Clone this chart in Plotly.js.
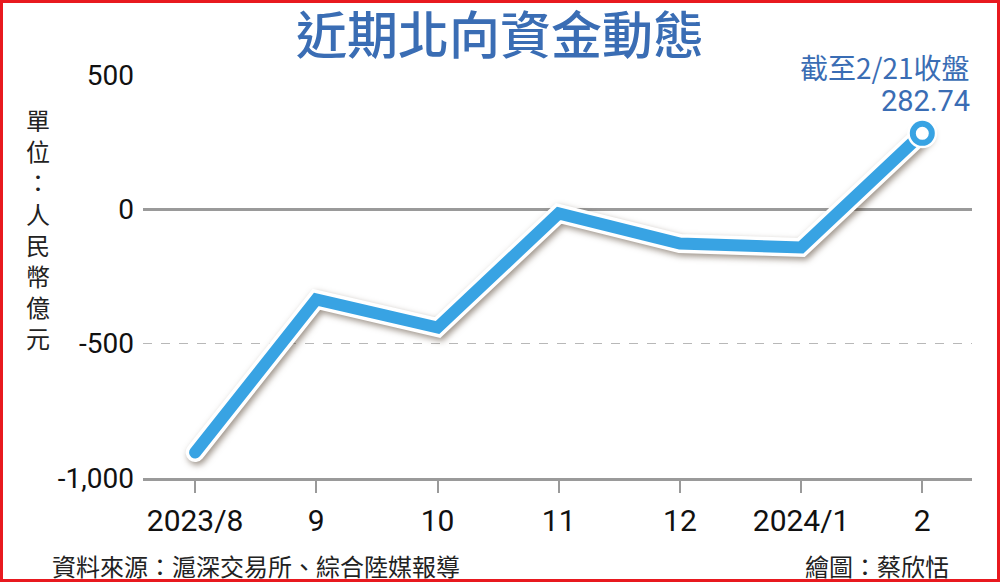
<!DOCTYPE html>
<html>
<head>
<meta charset="utf-8">
<script src="https://cdn.plot.ly/plotly-3.0.1.min.js"></script>
<style>
  html, body { margin: 0; padding: 0; background: #fff; }
  #wrap { position: relative; width: 1000px; height: 582px; }
  #chart { width: 1000px; height: 582px; }
  #frame { position: absolute; left: 0; top: 0; width: 1000px; height: 582px; box-sizing: border-box; border: 3px solid #e8191f; pointer-events: none; }
  .scatterlayer .trace .js-line { stroke-linecap: round; }
  .scatterlayer .trace:nth-child(1) .js-line { filter: drop-shadow(2px 3px 3px rgba(60,40,20,0.5)); }
</style>
</head>
<body>
<div id="wrap"><div id="chart"></div><div id="frame"></div></div>
<script>
// ---- data ----
const months = ["2023/8", "9", "10", "11", "12", "2024/1", "2"];
const flows = [-905, -335, -440, -15, -127, -142, 282.74];
const yTickVals = [-1000, -500, 0, 500];
const yTickText = ["-1,000", "-500", "0", "500"];
const chartTitle = "近期北向資金動態";
const unitLabel = ["單", "位", "：", "人", "民", "幣", "億", "元"];
const noteLabel = "截至2/21收盤";
const sourceText = "資料來源：滬深交易所、綜合陸媒報導";
const creditText = "繪圖：蔡欣恬";

const BLUE = "#38a3e3";
const TEXTBLUE = "#3a6db4";
const CJK = "Noto Sans CJK TC, Roboto, sans-serif";
const NUM = "Roboto, Noto Sans CJK TC, sans-serif";

const last = flows.length - 1;

const traces = [
  { x: months, y: flows, type: "scatter", mode: "lines",
    line: { color: "#ffffff", width: 19 }, hoverinfo: "skip", showlegend: false, cliponaxis: false },
  { x: months, y: flows, type: "scatter", mode: "lines",
    line: { color: BLUE, width: 12 }, showlegend: false, cliponaxis: false },
  { x: [months[last]], y: [flows[last]], type: "scatter", mode: "markers",
    marker: { size: 30, color: "#ffffff" }, showlegend: false, cliponaxis: false, hoverinfo: "skip" },
  { x: [months[last]], y: [flows[last]], type: "scatter", mode: "markers",
    marker: { size: 19, color: "#ffffff", line: { color: BLUE, width: 6 } }, showlegend: false, cliponaxis: false }
];

const plotTop = 75, plotBottom = 478;
const plotH = plotBottom - plotTop;
function py(px) { return (plotBottom - px) / plotH; }

const annotations = [
  { text: chartTitle, xref: "paper", yref: "paper", x: 0.431, y: py(32), xanchor: "center", yanchor: "middle",
    showarrow: false, borderpad: 0, font: { family: CJK, size: 51, color: TEXTBLUE, weight: 500 } },
  { text: noteLabel, xref: "paper", yref: "paper", x: 1.0, y: py(67), xanchor: "right", yanchor: "middle",
    showarrow: false, font: { family: CJK, size: 28, color: TEXTBLUE } },
  { text: flows[last].toFixed(2), xref: "paper", yref: "paper", x: 1.0, y: py(101), xanchor: "right", yanchor: "middle",
    showarrow: false, font: { family: NUM, size: 29, color: TEXTBLUE } },
  { text: sourceText, xref: "paper", yref: "paper", x: (50 - 143) / 829, y: py(565), xanchor: "left", yanchor: "middle",
    showarrow: false, font: { family: CJK, size: 24, color: "#222" } },
  { text: creditText, xref: "paper", yref: "paper", x: (951 - 143) / 829, y: py(565), xanchor: "right", yanchor: "middle",
    showarrow: false, font: { family: CJK, size: 24, color: "#222" } },
  { text: unitLabel.join("<br>"), xref: "paper", yref: "paper", x: (38 - 143) / 829, y: py(228),
    xanchor: "center", yanchor: "middle", align: "center", showarrow: false, borderpad: 0,
    font: { family: CJK, size: 24, color: "#222" } }
];

const layout = {
  width: 1000, height: 582,
  margin: { l: 143, r: 28, t: plotTop, b: 582 - plotBottom },
  paper_bgcolor: "#ffffff", plot_bgcolor: "#ffffff",
  showlegend: false,
  xaxis: {
    type: "category", range: [-0.43, 6.41], fixedrange: true,
    showgrid: false, zeroline: false,
    showline: true, linecolor: "#9a9a9a", linewidth: 3,
    ticks: "outside", ticklen: 12, tickwidth: 2, tickcolor: "#9a9a9a",
    ticklabelstandoff: 2,
    tickfont: { family: NUM, size: 30, color: "#111" }
  },
  yaxis: {
    range: [-1000, 500], fixedrange: true,
    tickvals: yTickVals, ticktext: yTickText,
    showgrid: true, gridcolor: "#b8b8b8", gridwidth: 1, griddash: "dash",
    zeroline: true, zerolinecolor: "#9a9a9a", zerolinewidth: 3,
    showline: false, ticks: "",
    ticklabelstandoff: 8,
    tickfont: { family: NUM, size: 28, color: "#111" }
  },
  annotations: annotations
};

Plotly.newPlot("chart", traces, layout, { displayModeBar: false, staticPlot: true });
</script>
</body>
</html>
